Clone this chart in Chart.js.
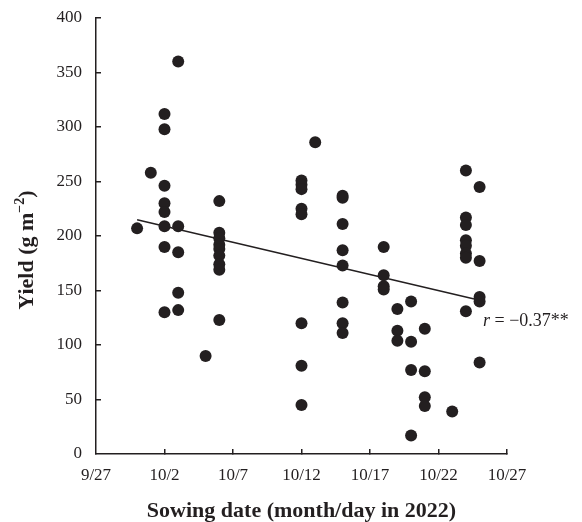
<!DOCTYPE html>
<html>
<head>
<meta charset="utf-8">
<script src="https://cdn.jsdelivr.net/npm/chart.js@4.4.1/dist/chart.umd.min.js"></script>
<style>
  html, body { margin: 0; padding: 0; background: #ffffff; }
  #wrap { position: relative; width: 582px; height: 522px; }
</style>
</head>
<body>
<div id="wrap"><canvas id="c" width="582" height="522"></canvas></div>
<script>
// Days after 9/27/2022 (0 = 9/27)
const sowingDays = [
  3,
  4,
  5, 5, 5, 5, 5, 5, 5, 5,
  6, 6, 6, 6, 6,
  8,
  9, 9, 9, 9, 9, 9, 9, 9, 9,
  15, 15, 15, 15, 15, 15, 15, 15,
  16,
  18, 18, 18, 18, 18, 18, 18, 18,
  21, 21, 21, 21,
  22, 22, 22,
  23, 23, 23, 23,
  24, 24, 24, 24,
  26,
  27, 27, 27, 27, 27, 27, 27, 27,
  28, 28, 28, 28, 28
];
const yieldValues = [
  207,
  258,
  312, 298, 246, 230, 222, 209, 190, 130,
  360, 209, 185, 148, 132,
  90,
  232, 203, 198, 192, 188, 182, 174, 169, 123,
  251, 247, 243, 225, 220, 120, 81, 45,
  286,
  237, 235, 211, 187, 173, 139, 120, 111,
  190, 164, 154, 151,
  133, 113, 104,
  140, 103, 77, 17,
  115, 76, 52, 44,
  39,
  260, 217, 210, 196, 191, 184, 180, 131,
  245, 177, 144, 140, 84
];
const trendDays = [3, 28];
const trendValues = [215, 141];
const xTickLabels = ['9/27', '10/2', '10/7', '10/12', '10/17', '10/22', '10/27'];
const yTickValues = [0, 50, 100, 150, 200, 250, 300, 350, 400];
const annotationText = ['r', ' = \u22120.37**'];
const yTitleParts = ['Yield (g m', '\u22122', ')'];
const xTitle = 'Sowing date (month/day in 2022)';

const INK = '#231f20';
const SERIF = '"Liberation Serif", "Times New Roman", serif';

const scatterPts = sowingDays.map((d, i) => ({ x: d, y: yieldValues[i] }));
const trendPts = trendDays.map((d, i) => ({ x: d, y: trendValues[i] }));

const textPlugin = {
  id: 'texts',
  afterDraw(chart) {
    const ctx = chart.ctx;
    ctx.save();
    ctx.fillStyle = INK;
    ctx.textBaseline = 'alphabetic';
    ctx.textAlign = 'left';
    // r annotation
    let x = 483, y = 326;
    ctx.font = 'italic 18px ' + SERIF;
    ctx.fillText(annotationText[0], x, y);
    x += ctx.measureText(annotationText[0]).width;
    ctx.font = '18px ' + SERIF;
    ctx.fillText(annotationText[1], x, y);

    // Y axis title with superscript
    const big = 'bold 22px ' + SERIF;
    const small = 'bold 14px ' + SERIF;
    ctx.font = big; const w0 = ctx.measureText(yTitleParts[0]).width;
    ctx.font = small; const w1 = ctx.measureText(yTitleParts[1]).width;
    ctx.font = big; const w2 = ctx.measureText(yTitleParts[2]).width;
    const total = w0 + w1 + w2;
    ctx.translate(33, 250);
    ctx.rotate(-Math.PI / 2);
    let cx = -total / 2;
    ctx.font = big; ctx.fillText(yTitleParts[0], cx, 0); cx += w0;
    ctx.font = small; ctx.fillText(yTitleParts[1], cx, -9); cx += w1;
    ctx.font = big; ctx.fillText(yTitleParts[2], cx, 0);
    ctx.restore();
  }
};

new Chart(document.getElementById('c'), {
  type: 'scatter',
  data: {
    datasets: [
      {
        type: 'line',
        data: trendPts,
        borderColor: INK,
        borderWidth: 1.5,
        pointRadius: 0,
        fill: false,
        order: 2
      },
      {
        data: scatterPts,
        backgroundColor: INK,
        borderColor: INK,
        pointRadius: 6,
        pointHoverRadius: 6,
        borderWidth: 0,
        order: 1
      }
    ]
  },
  options: {
    responsive: false,
    animation: false,
    events: [],
    layout: { padding: { left: 0, right: 75, top: 18, bottom: 0 } },
    plugins: { legend: { display: false }, tooltip: { enabled: false } },
    scales: {
      x: {
        type: 'linear',
        min: 0, max: 30,
        afterFit(s) { s.height = 68; s.paddingLeft = 0; s.paddingRight = 0; },
        afterBuildTicks(s) { s.ticks = xTickLabels.map((_, i) => ({ value: i * 5 })); },
        ticks: {
          autoSkip: false,
          maxRotation: 0,
          color: INK,
          padding: 16,
          font: { family: SERIF, size: 17 },
          callback: (v, i) => xTickLabels[i]
        },
        grid: {
          drawOnChartArea: false,
          drawTicks: true,
          tickLength: -5,
          color: (c) => c.index === 0 ? 'rgba(0,0,0,0)' : INK,
          lineWidth: 1.5
        },
        border: { display: true, color: INK, width: 1.5 },
        title: {
          display: true,
          text: xTitle,
          color: INK,
          font: { family: SERIF, size: 22, weight: 'bold', lineHeight: 1.0 },
          padding: { top: 0, bottom: 0 }
        }
      },
      y: {
        type: 'linear',
        min: 0, max: 400,
        afterFit(s) { s.width = 96; s.paddingTop = 0; s.paddingBottom = 0; },
        afterBuildTicks(s) { s.ticks = yTickValues.map(v => ({ value: v })); },
        ticks: {
          color: INK,
          padding: 19,
          font: { family: SERIF, size: 17 }
        },
        grid: {
          drawOnChartArea: false,
          drawTicks: true,
          tickLength: -5,
          color: (c) => c.index === 0 ? 'rgba(0,0,0,0)' : INK,
          lineWidth: 1.5
        },
        border: { display: true, color: INK, width: 1.5 },
        title: { display: false }
      }
    }
  },
  plugins: [textPlugin]
});
</script>
</body>
</html>
